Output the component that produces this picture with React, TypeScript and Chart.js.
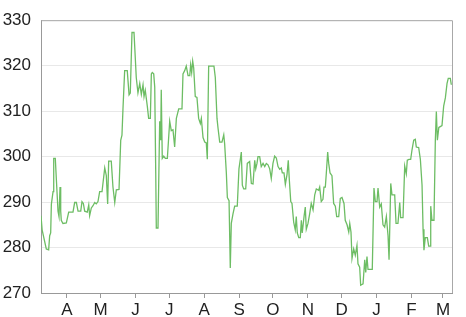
import React, { useEffect, useRef } from "react";
import { Chart, registerables } from "chart.js";

Chart.register(...registerables);

// day offsets from Mar 9 (day 0) to Mar 8 of the next year (day 365)
const days: number[] = [
  0, 1, 4.7, 6.8, 7.7, 8.6, 9.2, 10.7, 11.3, 12.7, 13.6, 15.1, 16, 16.9, 17.5, 18, 19.5, 22.5, 24.6, 28.4,
  29.9, 31.4, 32.9, 35.3, 36.4, 37.6, 38.8, 41.1, 42.4, 43.2, 44.7, 46.2, 47.7, 49.1, 50.6, 52.1, 54.2, 56.6, 58, 59.2,
  60.1, 62.4, 63.9, 65.5, 66.9, 69.3, 70.8, 71.9, 72.8, 74.3, 76.6, 78.2, 79.3, 80.8, 82.6, 84.6, 86.1, 87.7, 89.1, 90.6,
  91.5, 92.6, 94.4, 95.6, 97.1, 98, 98.8, 100.1, 101, 101.9, 102.4, 103.9, 105.4, 106.3, 106.8, 107.7, 109, 110.4, 112.2, 114.3,
  115.7, 117.2, 118.7, 120.2, 122.3, 123.2, 125.2, 126.1, 127.6, 129, 130.6, 132.1, 132.9, 133.8, 134.7, 135.6, 137, 138.5, 140, 141.5,
  142.4, 143.9, 145.4, 146.8, 147.7, 148.9, 151.2, 153.6, 154.8, 156.3, 157.2, 158.7, 160.7, 162.3, 163.1, 164.6, 165.5, 167, 168.1, 169,
  170.5, 172, 174.3, 175.8, 177, 177.9, 178.8, 180, 181.8, 183.2, 185.3, 186.8, 188.3, 189.8, 190.7, 191.8, 192.7, 194.2, 195.6, 197.2,
  198.7, 200.1, 201.6, 203.1, 204.5, 206, 207.5, 209, 210.5, 212, 213.4, 214.3, 215.8, 217, 218.5, 219.6, 220.5, 221.8, 222.9, 224.4,
  225.8, 226.7, 227.6, 228.9, 230.3, 231.2, 232, 233.6, 234.7, 235.6, 237.1, 238.6, 240, 241.6, 243.1, 244.5, 246.6, 247.5, 248.9, 250.4,
  251.3, 252.5, 253.4, 254.6, 255.5, 256.7, 258.4, 259.9, 261.4, 262.6, 264.4, 265.8, 267.3, 269.1, 270.2, 271.8, 273.3, 274.2, 275.3, 276.2,
  277.7, 279.1, 280.6, 281.5, 283, 283.9, 286, 287.5, 288.4, 289.5, 290.4, 291.9, 294.2, 295.7, 296.9, 298.4, 299.3, 300.8, 302.2, 303.7,
  305.2, 306.7, 308.2, 309.1, 310.6, 311.7, 314.1, 315.3, 317, 318.6, 319.4, 321.5, 323, 324.4, 325.3, 326.8, 328.3, 329.5, 331, 332.4,
  333.3, 335.4, 336.9, 338.4, 339.3, 340.1, 341.3, 343.1, 344.3, 345.5, 346.1, 347.2, 349, 350.2, 351.1, 352, 353.3, 354.6, 356.1, 357.6,
  359.1, 360.6, 361.7, 363.5, 364.4,
];

const prices: number[] = [
  287, 283.9, 279.7, 279.5, 282.6, 283.2, 289.5, 292.3, 299.6, 299.6, 295.2, 288, 286.8, 293.3, 288, 286, 285.3, 285.4, 287.8, 287.8,
  289.9, 289.9, 288, 288, 290.1, 289.7, 288, 287.8, 289.4, 287, 288.7, 289.2, 289.9, 289.6, 290.1, 292.3, 292.3, 297.5, 295.8, 289.6,
  299, 299, 293.3, 289.9, 292.7, 292.8, 303.6, 304.7, 310.5, 318.9, 318.9, 313.6, 314, 327.3, 327.3, 317.4, 314, 316.1, 313.7, 315.8,
  313.2, 314.6, 311.1, 308.4, 308.4, 318.2, 318.5, 318.2, 315.3, 296.4, 284.3, 284.3, 307.8, 303.6, 314.7, 299.6, 300.1, 299.6, 299.6, 307.8,
  305.7, 305.9, 302.1, 308.4, 310.5, 310.5, 310.5, 318.2, 318.9, 319.9, 317.8, 317.8, 320.2, 318.5, 321, 319.5, 313.2, 313, 308.4, 307.3,
  308.4, 304.2, 303.2, 303, 299.4, 319.9, 319.9, 319.9, 317.4, 308.4, 306.3, 303.2, 303.2, 304.8, 302.8, 296.4, 291, 290.3, 275.5, 285.3,
  287.4, 289.1, 289.1, 297.3, 299.4, 301, 293.7, 292.9, 292.9, 298.5, 298.9, 294.1, 294, 299.2, 297.3, 298.5, 300, 300, 297.8, 298.5,
  297.8, 298.5, 298.2, 297.3, 295.2, 298.5, 300.1, 299.7, 297.8, 297.2, 297.5, 296.4, 296.4, 293.9, 296.1, 299.2, 295, 290.1, 289.7, 285.6,
  283.9, 286.8, 283.2, 282.2, 282.2, 286, 283.2, 286.8, 288.9, 284, 285.3, 287.4, 289.7, 288.3, 291.6, 292.9, 292.6, 293.3, 290.1, 290.6,
  293.3, 293.3, 296.4, 301, 298.5, 296.4, 295.8, 289.7, 289.1, 286.8, 286.8, 290.8, 291, 289.7, 286, 285, 283.4, 285.3, 283.4, 277.6,
  279.7, 278.3, 280.5, 276.4, 275.7, 271.7, 272, 277.3, 274.5, 278, 275.2, 275.2, 275.2, 293.1, 290.1, 290.1, 293.1, 288.9, 289.6, 285,
  284.5, 286.8, 282.6, 277.3, 294.1, 291.6, 291.6, 285.3, 285.3, 289.9, 286.6, 286.6, 297.9, 296.2, 299.2, 299.4, 299.4, 301.5, 303.6, 303.8,
  302.1, 302, 299.4, 293.7, 284, 279.4, 282.2, 282.2, 280.3, 280.3, 289.1, 286, 286, 303.6, 309.9, 303.6, 306.4, 306.6, 306.8, 311.1,
  312.9, 316.1, 317.2, 317.2, 315.8,
];

// month starts (day offsets) and their labels
const monthTicks: number[] = [23, 53, 84, 114, 145, 176, 206, 237, 267, 298, 329, 357];
const monthLabels: string[] = ["A", "M", "J", "J", "A", "S", "O", "N", "D", "J", "F", "M"];

const yMin = 270;
const yMax = 330;
const yStep = 10;

const frame = {
  id: "frame",
  afterDraw(chart: any) {
    const { ctx, chartArea } = chart;
    ctx.save();
    ctx.strokeStyle = "#a8a8a8";
    ctx.lineWidth = 1;
    ctx.beginPath();
    ctx.moveTo(chartArea.left, chartArea.top + 0.5);
    ctx.lineTo(chartArea.right + 0.5, chartArea.top + 0.5);
    ctx.lineTo(chartArea.right + 0.5, chartArea.bottom);
    ctx.stroke();
    ctx.restore();
  },
};

export default function App() {
  const ref = useRef<HTMLCanvasElement | null>(null);

  useEffect(() => {
    document.body.style.margin = "0";
    if (!ref.current) return;
    const points = days.map((d, i) => ({ x: d, y: prices[i] }));
    const font = { family: "'Liberation Sans', Arial, Helvetica, sans-serif", size: 17 };
    const chart = new Chart(ref.current, {
      type: "line",
      data: {
        datasets: [
          {
            data: points,
            borderColor: "#6dbd64",
            borderWidth: 1.3,
            pointRadius: 0,
            tension: 0,
            fill: false,
          },
        ],
      },
      options: {
        animation: false,
        responsive: false,
        maintainAspectRatio: false,
        layout: { padding: { top: 7, right: 14, left: 0, bottom: 0 } },
        plugins: { legend: { display: false }, tooltip: { enabled: false } },
        scales: {
          x: {
            type: "linear",
            min: 0,
            max: 365,
            afterBuildTicks: (scale: any) => {
              scale.ticks = monthTicks.map((v) => ({ value: v }));
            },
            afterFit: (scale: any) => {
              scale.height = 24;
            },
            ticks: {
              autoSkip: false,
              maxRotation: 0,
              padding: 2,
              color: "#222",
              font,
              callback: (v: any) => {
                const i = monthTicks.indexOf(Number(v));
                return i >= 0 ? monthLabels[i] : "";
              },
            },
            grid: { drawOnChartArea: false, drawTicks: true, tickLength: 5, color: "#999" },
            border: { color: "#999" },
          },
          y: {
            min: yMin,
            max: yMax,
            afterFit: (scale: any) => {
              scale.width = 41;
            },
            ticks: { stepSize: yStep, padding: 10, color: "#222", font },
            grid: { drawTicks: false, color: "#e8e8e8" },
            border: { color: "#999" },
          },
        },
      },
      plugins: [frame],
    });
    return () => chart.destroy();
  }, []);

  return (
    <div style={{ width: 466, height: 317 }}>
      <canvas ref={ref} width={466} height={317} style={{ display: "block" }} />
    </div>
  );
}
